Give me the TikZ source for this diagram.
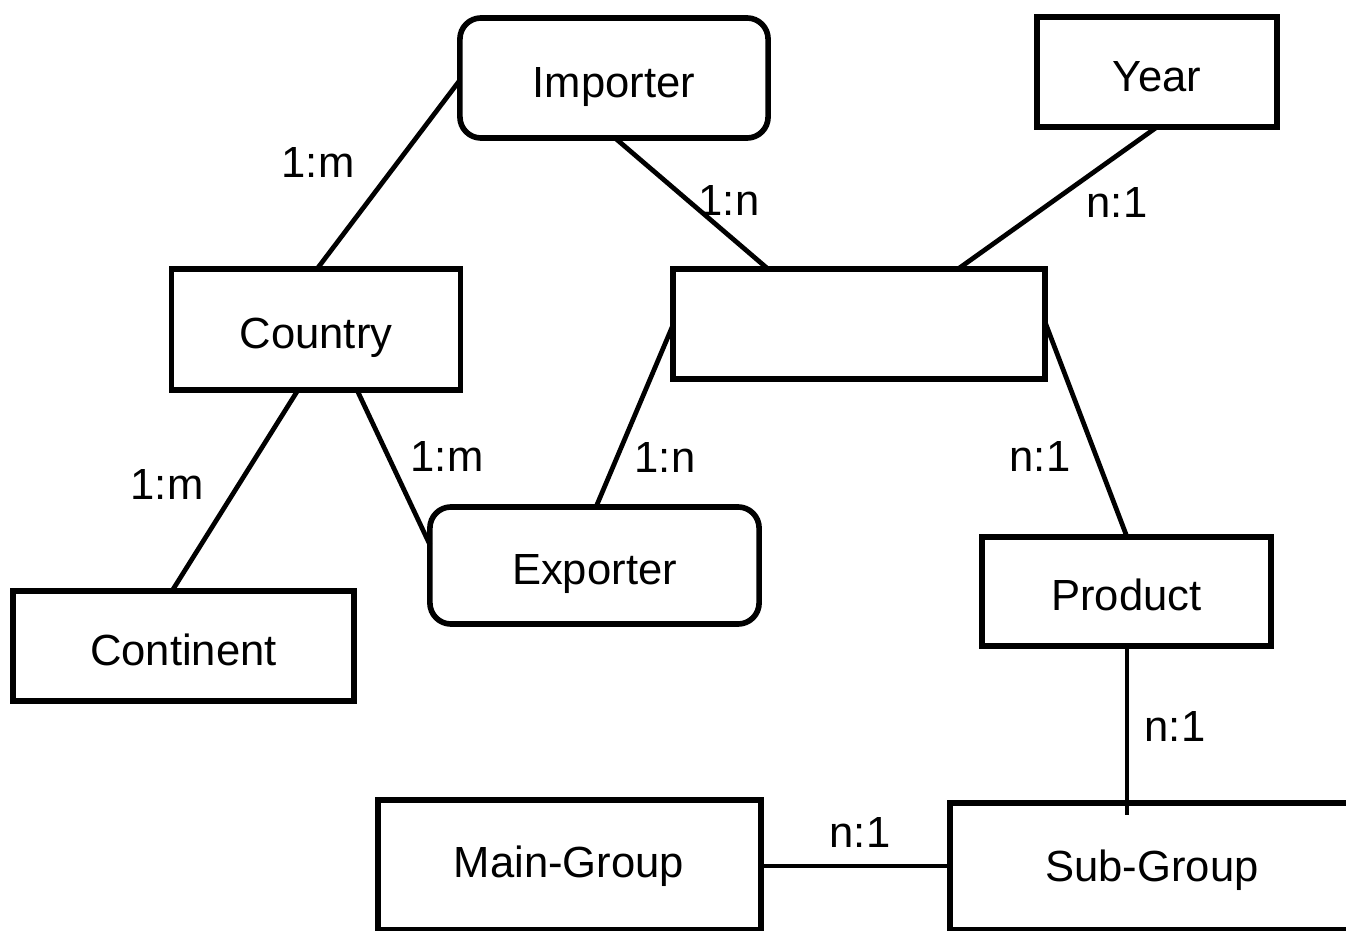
\documentclass[tikz,border=0pt]{standalone}
\usepackage{fontspec}
\setmainfont{Liberation Sans}
\begin{document}
\begin{tikzpicture}[x=0.01cm,y=-0.01cm,
  txt/.style={font=\fontsize{12.4}{14}\selectfont, text height=11pt, text depth=0pt},
  ent/.style={draw=black, line width=1.6pt, rectangle, inner sep=0pt, txt},
  rent/.style={ent, rounded corners=6pt},
  conn/.style={draw=black, line width=1.35pt},
  lbl/.style={txt, inner sep=0pt}]
\useasboundingbox (0,0) rectangle (1346,931);
\clip (0,0) rectangle (1346,931);
% entities
\node[rent, minimum width=3.08cm, minimum height=1.20cm] (imp) at (614,78) {Importer};
\node[ent, minimum width=2.40cm, minimum height=1.10cm] (year) at (1157,72) {Year};
\node[ent, minimum width=3.72cm, minimum height=1.10cm] (fact) at (859,324) {};
\node[ent, minimum width=2.89cm, minimum height=1.21cm] (country) at (316,329.5) {Country};
\node[ent, minimum width=3.41cm, minimum height=1.10cm] (cont) at (183.5,646) {Continent};
\node[rent, minimum width=3.29cm, minimum height=1.17cm] (exp) at (594.5,565.5) {Exporter};
\node[ent, minimum width=2.89cm, minimum height=1.09cm] (prod) at (1126.5,591.5) {Product};
\node[ent, minimum width=3.83cm, minimum height=1.30cm] (main) at (569.5,865) {};
\node[lbl] (maint) at (569,858) {Main-Group};
\node[ent, minimum width=4.00cm, minimum height=1.27cm] (sub) at (1150,866.5) {};
\node[lbl] (subt) at (1152,862) {Sub-Group};
% connection points
\coordinate (impL) at (460,80);
\coordinate (impB) at (615,138);
\coordinate (countryT) at (317,269);
\coordinate (factTL) at (768,269);
\coordinate (factTR) at (958,269);
\coordinate (yearB) at (1157,127);
\coordinate (countryBL) at (298,390);
\coordinate (countryBR) at (357,390);
\coordinate (contT) at (172,591);
\coordinate (expL) at (430,545);
\coordinate (expT) at (596,507);
\coordinate (factL) at (673,325);
\coordinate (factR) at (1045,322);
\coordinate (prodT) at (1127,537);
\coordinate (prodB) at (1127,646);
\coordinate (subIn) at (1127,815);
\coordinate (mainR) at (762,866);
\coordinate (subL) at (950,866);
% connectors
\draw[conn] (impL) -- (countryT);
\draw[conn] (impB) -- (factTL);
\draw[conn] (yearB) -- (factTR);
\draw[conn] (countryBL) -- (contT);
\draw[conn] (countryBR) -- (expL);
\draw[conn] (factL) -- (expT);
\draw[conn] (factR) -- (prodT);
\draw[conn] (prodB) -- (subIn);
\draw[conn] (mainR) -- (subL);
% labels
\node[lbl] (l1) at (318,158) {1:m};
\node[lbl] (l2) at (729,196) {1:n};
\node[lbl] (l3) at (1117,198) {n:1};
\node[lbl] (l4) at (167,480) {1:m};
\node[lbl] (l5) at (447,452) {1:m};
\node[lbl] (l6) at (665,453) {1:n};
\node[lbl] (l7) at (1040,452) {n:1};
\node[lbl] (l8) at (1175,722) {n:1};
\node[lbl] (l9) at (860,828) {n:1};
\end{tikzpicture}
\end{document}
